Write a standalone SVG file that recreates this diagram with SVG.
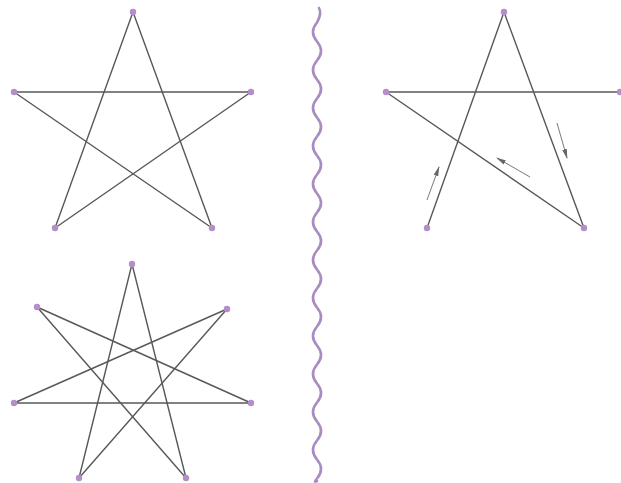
<svg xmlns="http://www.w3.org/2000/svg" width="621" height="483" viewBox="0 0 621 483">
<defs>
<style>
.e{stroke:#585858;stroke-width:1.4;fill:none;stroke-linecap:round}
.d{fill:#b48ec6}
.a{stroke:#7a7a7a;stroke-width:1;fill:none}
.w{stroke:#a98cbf;stroke-width:2.6;fill:none;stroke-linecap:round}
</style>
<marker id="ah" viewBox="0 0 10 6" refX="9" refY="3" markerWidth="10" markerHeight="6" markerUnits="userSpaceOnUse" orient="auto">
<path d="M0 0.6 L10 3 L0 5.4 Z" fill="#666"/>
</marker>
</defs>
<rect width="621" height="483" fill="#fff"/>
<g id="connectors">
<!-- star 1 -->
<line class="e" x1="133" y1="12" x2="55" y2="228"/>
<line class="e" x1="133" y1="12" x2="212" y2="228"/>
<line class="e" x1="14" y1="92" x2="251" y2="92"/>
<line class="e" x1="14" y1="92" x2="212" y2="228"/>
<line class="e" x1="251" y1="92" x2="55" y2="228"/>
<!-- star 2 -->
<line class="e" x1="504" y1="12" x2="427" y2="228"/>
<line class="e" x1="504" y1="12" x2="584" y2="228"/>
<line class="e" x1="386" y1="92" x2="620" y2="92"/>
<line class="e" x1="386" y1="92" x2="584" y2="228"/>
<!-- star 3 -->
<line class="e" x1="132" y1="264" x2="79" y2="478"/>
<line class="e" x1="132" y1="264" x2="186" y2="478"/>
<line class="e" x1="37" y1="307" x2="251" y2="403"/>
<line class="e" x1="37" y1="307" x2="186" y2="478"/>
<line class="e" x1="227" y1="309" x2="14" y2="403"/>
<line class="e" x1="227" y1="309" x2="79" y2="478"/>
<line class="e" x1="14" y1="403" x2="251" y2="403"/>
<!-- direction arrows -->
<line class="a" x1="427" y1="200" x2="439" y2="167" marker-end="url(#ah)"/>
<line class="a" x1="530" y1="177" x2="497" y2="158" marker-end="url(#ah)"/>
<line class="a" x1="557" y1="123" x2="567" y2="158" marker-end="url(#ah)"/>
</g>
<path id="divider" class="w" d="M319 8 Q322 14 317 22.5 q-8 9.5 0 19 t0 19 t0 19 t0 19 t0 19 t0 19 t0 19 t0 19 t0 19 t0 19 t0 19 t0 19 t0 19 t0 19 t0 19 t0 19 t0 19 t0 19 t0 19 t0 19 t0 19 t0 19 t0 19 t0 19 Q313 483 317 481"/>
<g id="star1">
<circle class="d" cx="133" cy="12" r="3.2"/>
<circle class="d" cx="14" cy="92" r="3.2"/>
<circle class="d" cx="251" cy="92" r="3.2"/>
<circle class="d" cx="55" cy="228" r="3.2"/>
<circle class="d" cx="212" cy="228" r="3.2"/>
</g>
<g id="star2">
<circle class="d" cx="504" cy="12" r="3.2"/>
<circle class="d" cx="386" cy="92" r="3.2"/>
<circle class="d" cx="620" cy="92" r="3.2"/>
<circle class="d" cx="427" cy="228" r="3.2"/>
<circle class="d" cx="584" cy="228" r="3.2"/>
</g>
<g id="star3">
<circle class="d" cx="132" cy="264" r="3.2"/>
<circle class="d" cx="37" cy="307" r="3.2"/>
<circle class="d" cx="227" cy="309" r="3.2"/>
<circle class="d" cx="14" cy="403" r="3.2"/>
<circle class="d" cx="251" cy="403" r="3.2"/>
<circle class="d" cx="79" cy="478" r="3.2"/>
<circle class="d" cx="186" cy="478" r="3.2"/>
</g>
</svg>
